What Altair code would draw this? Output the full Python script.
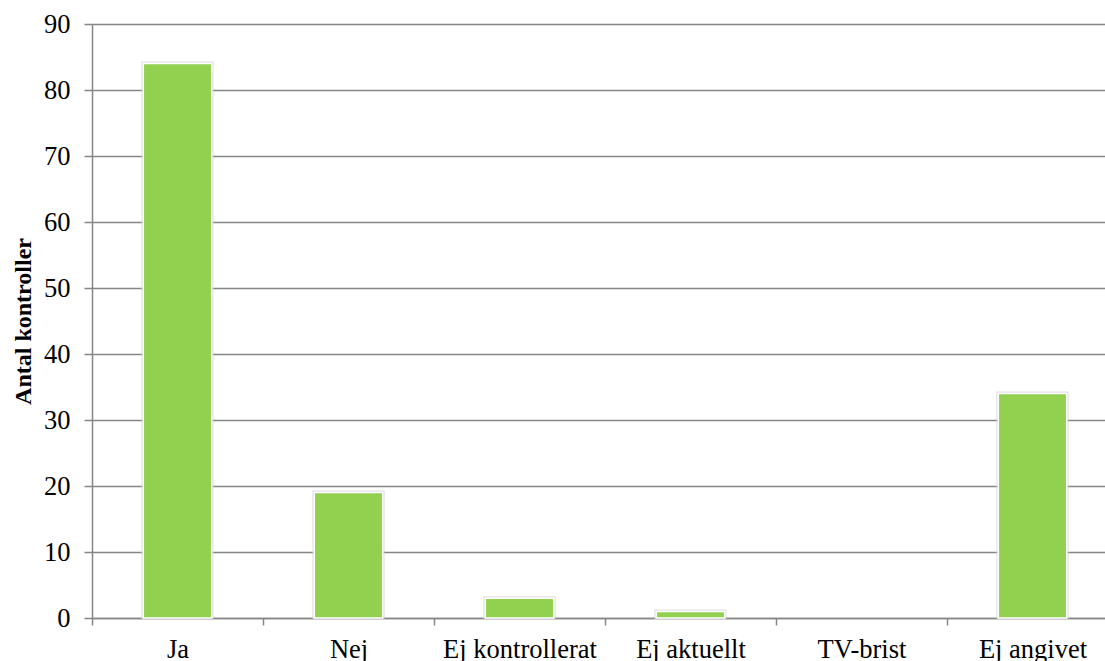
import altair as alt
import pandas as pd

categories = ["Ja", "Nej", "Ej kontrollerat", "Ej aktuellt", "TV-brist", "Ej angivet"]
values = [84, 19, 3, 1, 0, 34]
y_ticks = [0, 10, 20, 30, 40, 50, 60, 70, 80, 90]

df = pd.DataFrame({"kategori": categories, "antal": values})

FONT = "Liberation Serif"
GREEN = "#92D050"
GRID = "#868686"

x_enc = alt.X(
    "kategori:N",
    sort=categories,
    scale=alt.Scale(domain=categories, paddingInner=0, paddingOuter=0, range=[0, 1026]),
    axis=alt.Axis(
        title=None,
        labelAngle=0,
        labelFont=FONT,
        labelFontSize=26.5,
        labelColor="#000000",
        labelPadding=11,
        tickBand="extent",
        tickSize=7,
        tickColor=GRID,
        tickWidth=1.5,
        domainColor=GRID,
        domainWidth=1.5,
        grid=False,
        labelOverlap=False,
    ),
)

y_enc = alt.Y(
    "antal:Q",
    scale=alt.Scale(domain=[0, 90], nice=False),
    axis=alt.Axis(
        values=y_ticks,
        title="Antal kontroller",
        titleFont=FONT,
        titleFontSize=24,
        titleFontWeight="bold",
        titleColor="#000000",
        titlePadding=8,
        labelFont=FONT,
        labelFontSize=26.5,
        labelColor="#000000",
        labelPadding=14,
        tickSize=8,
        tickColor=GRID,
        tickWidth=1.5,
        domainColor=GRID,
        domainWidth=1.5,
        grid=True,
        gridColor=GRID,
        gridWidth=1.5,
    ),
)

base = alt.Chart(df).transform_filter("datum.antal > 0")

shadow = base.mark_bar(
    width=alt.RelativeBandSize(0.4),
    color=GREEN,
    stroke="#D0D0D0",
    strokeWidth=4,
    strokeOpacity=0.6,
).encode(x=x_enc, y=y_enc)

bars = base.mark_bar(
    width=alt.RelativeBandSize(0.4),
    color=GREEN,
    stroke="#FFFFFF",
    strokeWidth=1.5,
).encode(x=x_enc, y=y_enc)

chart = (
    alt.layer(shadow, bars)
    .properties(
        width=1013,
        height=594,
        autosize=alt.AutoSizeParams(type="none"),
        padding={"left": 92, "top": 24, "right": 0, "bottom": 43},
        background="#FFFFFF",
    )
    .configure_view(stroke=None)
)

chart.save("out.html", embed_options={"renderer": "svg", "actions": False})
